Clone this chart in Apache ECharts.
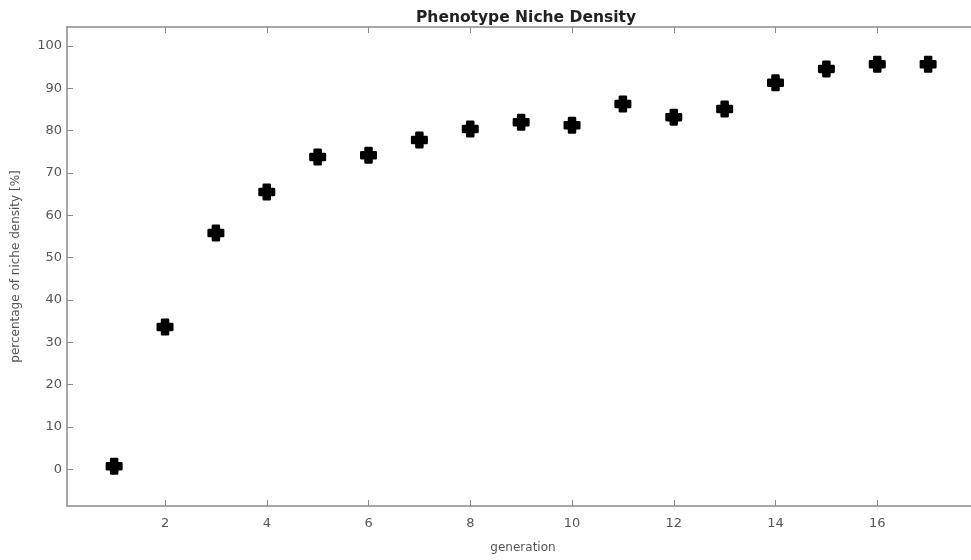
<!DOCTYPE html>
<html>
<head>
<meta charset="utf-8">
<script src="https://cdn.jsdelivr.net/npm/echarts@6/dist/echarts.min.js"></script>
<style>html,body{margin:0;padding:0;background:#fff;overflow:hidden;}#c{width:971px;height:560px;}</style>
</head>
<body>
<div id="c"></div>
<script>
const generations = [1,2,3,4,5,6,7,8,9,10,11,12,13,14,15,16,17];
const density = [0.7,33.6,55.8,65.5,73.8,74.2,77.8,80.4,82.0,81.3,86.3,83.2,85.1,91.3,94.6,95.7,95.7];
const xTicks = [2,4,6,8,10,12,14,16];
const yTicks = [0,10,20,30,40,50,60,70,80,90,100];

const chart = echarts.init(document.getElementById('c'), null, {renderer:'canvas'});
const axisColor = '#8a8a8a';
const labelColor = '#555';
const font = 'DejaVu Sans, sans-serif';
const plus = 'path://M6.5,0 H13.5 Q15,0 15,1.5 V5 H18.5 Q20,5 20,6.5 V13.5 Q20,15 18.5,15 H15 V18.5 Q15,20 13.5,20 H6.5 Q5,20 5,18.5 V15 H1.5 Q0,15 0,13.5 V6.5 Q0,5 1.5,5 H5 V1.5 Q5,0 6.5,0 Z';

function xAx(pos, show) {
  return {
    type:'value', position:pos, min:0.073, max:18,
    axisLine:{show:true, onZero:false, lineStyle:{color:axisColor, width:1.5}},
    axisTick:{show:true, inside:true, length:6, customValues:xTicks, lineStyle:{color:axisColor}},
    axisLabel:{show:show, customValues:xTicks, color:labelColor, fontSize:13, fontFamily:font, margin:11},
    splitLine:{show:false},
    name: show ? 'generation' : '', nameLocation:'middle', nameGap:36,
    nameTextStyle:{color:labelColor, fontSize:12, fontFamily:font}
  };
}
function yAx(pos, show) {
  return {
    type:'value', position:pos, min:-8.7, max:104.5,
    axisLine:{show:true, onZero:false, lineStyle:{color:axisColor, width:1.5}},
    axisTick:{show:true, inside:true, length:6, customValues:yTicks, lineStyle:{color:axisColor}},
    axisLabel:{show:show, customValues:yTicks, color:labelColor, fontSize:13, fontFamily:font, margin:5},
    splitLine:{show:false},
    name: show ? 'percentage of niche density [%]' : '', nameLocation:'middle', nameGap:45,
    nameTextStyle:{color:labelColor, fontSize:12, fontFamily:font}
  };
}

chart.setOption({
  animation:false,
  backgroundColor:'#fff',
  title:{text:'Phenotype Niche Density', left:521, textAlign:'center', top:5,
    textStyle:{fontSize:15.5, fontWeight:'bold', color:'#222', fontFamily:font}},
  grid:{left:67, top:27, width:912, height:479, containLabel:false, outerBoundsMode:'none'},
  xAxis:[xAx('bottom', true), xAx('top', false)],
  yAxis:[yAx('left', true), yAx('right', false)],
  series:[{
    type:'scatter',
    xAxisIndex:0, yAxisIndex:0,
    data: generations.map((g,i)=>[g, density[i]]),
    symbol: plus,
    symbolSize: 17,
    itemStyle:{color:'#000', opacity:1}
  }]
});
</script>
</body>
</html>
